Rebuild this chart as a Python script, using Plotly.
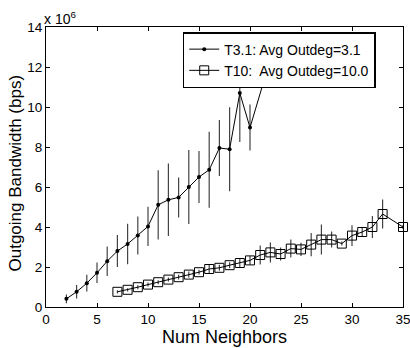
import plotly.graph_objects as go

# Values in units of 10^6 bps
t31_x = [2, 3, 4, 5, 6, 7, 8, 9, 10, 11, 12, 13, 14, 15, 16, 17, 18, 19, 20, 22]
t31_y = [0.41, 0.76, 1.19, 1.71, 2.29, 2.80, 3.15, 3.58, 4.03, 5.11, 5.36, 5.48,
         6.00, 6.50, 6.86, 7.95, 7.89, 10.70, 8.97, 12.40]
t31_err = [0.22, 0.34, 0.42, 0.51, 0.74, 0.80, 1.01, 0.95, 0.98, 1.73, 1.81, 1.00,
           1.85, 1.30, 1.90, 1.40, 2.10, 2.45, 1.15, 1.00]

t10_x = [7, 8, 9, 10, 11, 12, 13, 14, 15, 16, 17, 18, 19, 20, 21, 22, 23, 24, 25,
         26, 27, 28, 29, 30, 31, 32, 33, 35]
t10_y = [0.76, 0.86, 0.99, 1.12, 1.24, 1.37, 1.49, 1.62, 1.74, 1.90, 1.96, 2.09,
         2.20, 2.33, 2.60, 2.73, 2.65, 2.92, 2.88, 3.12, 3.37, 3.37, 3.17, 3.57,
         3.75, 4.00, 4.65, 4.00]
t10_err = [0.08, 0.08, 0.1, 0.1, 0.1, 0.1, 0.12, 0.15, 0.12, 0.2, 0.15, 0.15,
           0.22, 0.22, 0.47, 0.50, 0.33, 0.45, 0.33, 0.58, 0.75, 0.40, 0.10, 0.52,
           0.20, 0.55, 0.72, 0.10]

x_ticks = [0, 5, 10, 15, 20, 25, 30, 35]
y_ticks = [0, 2, 4, 6, 8, 10, 12, 14]

names = ["T3.1: Avg Outdeg=3.1", "T10:  Avg Outdeg=10.0"]
FONT = "Liberation Sans, Arial, sans-serif"

fig = go.Figure()
fig.add_trace(go.Scatter(
    x=t31_x, y=t31_y, name=names[0], mode="lines+markers",
    line=dict(color="black", width=1),
    marker=dict(symbol="circle", size=4, color="black"),
    error_y=dict(type="data", array=t31_err, visible=True, color="#444",
                 thickness=1.2, width=0),
    cliponaxis=True,
))
fig.add_trace(go.Scatter(
    x=t10_x, y=t10_y, name=names[1], mode="lines+markers",
    line=dict(color="black", width=1),
    marker=dict(symbol="square-open", size=9, color="black",
                line=dict(width=1, color="black")),
    error_y=dict(type="data", array=t10_err, visible=True, color="#444",
                 thickness=1.2, width=0),
    cliponaxis=False,
))

axis_common = dict(
    showline=True, linecolor="black", linewidth=1.2, mirror="ticks",
    ticks="inside", ticklen=4, tickcolor="black", showgrid=False, zeroline=False,
    automargin=False, ticklabeloverflow="allow",
    tickfont=dict(family=FONT, size=13.5, color="black"),
)

fig.update_layout(
    width=410, height=348,
    margin=dict(l=46, r=7, t=27, b=41),
    paper_bgcolor="white", plot_bgcolor="white",
    font=dict(family=FONT, color="black"),
    xaxis=dict(range=[0, 35], tickvals=x_ticks, ticklabelstandoff=0, **axis_common),
    yaxis=dict(range=[0, 14], tickvals=y_ticks, ticklabelstandoff=0, **axis_common),
    showlegend=True,
    legend=dict(x=0.383, y=0.982, xanchor="left", yanchor="top",
                bgcolor="white", bordercolor="black", borderwidth=1.5,
                font=dict(family=FONT, size=14), tracegroupgap=0, itemwidth=30),
    annotations=[
        dict(text="x 10<sup>6</sup>", xref="paper", yref="paper",
             x=0.0, y=1.0, xanchor="left", yanchor="bottom",
             showarrow=False, font=dict(size=14), xshift=-4, yshift=-2),
        dict(text="Num Neighbors", xref="paper", yref="paper",
             x=0.5, y=0, xanchor="center", yanchor="top",
             showarrow=False, font=dict(size=18), yshift=-18),
        dict(text="Outgoing Bandwidth (bps)", xref="paper", yref="paper",
             x=0, y=0.5, xanchor="right", yanchor="middle", textangle=-90,
             showarrow=False, font=dict(size=17), xshift=-20, yshift=-6),
    ],
)

fig.write_html("out.html", config={"displayModeBar": False},
               post_script="document.body.style.margin='0';")
